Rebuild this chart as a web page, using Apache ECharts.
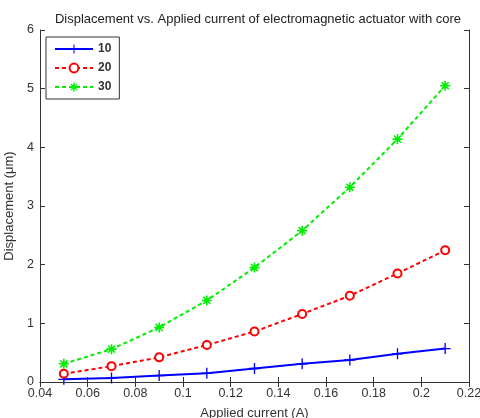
<!DOCTYPE html>
<html>
<head>
<meta charset="utf-8">
<script src="https://cdn.jsdelivr.net/npm/echarts@6/dist/echarts.min.js"></script>
<style>
  html, body { margin: 0; padding: 0; background: #fff; }
  #chart { width: 480px; height: 418px; }
</style>
</head>
<body>
<div id="chart"></div>
<script>
// applied current (A)
var current = [0.05, 0.07, 0.09, 0.11, 0.13, 0.15, 0.17, 0.19, 0.21];
// displacement (um) for each series
var disp10 = [0.045, 0.07, 0.11, 0.15, 0.23, 0.31, 0.375, 0.48, 0.57];
var disp20 = [0.14, 0.27, 0.42, 0.63, 0.86, 1.16, 1.47, 1.85, 2.245];
var disp30 = [0.31, 0.56, 0.93, 1.39, 1.95, 2.58, 3.32, 4.14, 5.05];
var seriesNames = ['10', '20', '30'];

function pairs(ys) {
    var out = [];
    for (var i = 0; i < current.length; i++) out.push([current[i], ys[i]]);
    return out;
}

var plusPath = 'path://M-0.12,-1H0.12V-0.12H1V0.12H0.12V1H-0.12V0.12H-1V-0.12H-0.12Z';
var starPath = 'path://M-0.16,-1H0.16V-0.38L0.6,-0.82L0.82,-0.6L0.38,-0.16H1V0.16H0.38L0.82,0.6L0.6,0.82L0.16,0.38V1H-0.16V0.38L-0.6,0.82L-0.82,0.6L-0.38,0.16H-1V-0.16H-0.38L-0.82,-0.6L-0.6,-0.82L-0.16,-0.38Z';

var font = 'Liberation Sans, Arial, sans-serif';
var axisColor = '#333';

var myChart = echarts.init(document.getElementById('chart'));
var option = {
    animation: false,
    backgroundColor: '#fff',
    title: {
        text: 'Displacement vs. Applied current of electromagnetic actuator with core',
        left: 253,
        textAlign: 'center',
        top: 8,
        textStyle: { fontFamily: font, fontSize: 13, fontWeight: 'normal', color: '#222' }
    },
    grid: { left: 40, right: 11, top: 30, bottom: 36, outerBoundsMode: 'none', containLabel: false },
    legend: {
        left: 46,
        top: 37,
        orient: 'vertical',
        backgroundColor: '#fff',
        borderColor: '#333',
        borderWidth: 1,
        borderRadius: 0,
        padding: [6, 8, 6, 8],
        itemGap: 7,
        itemWidth: 38,
        itemHeight: 11,
        textStyle: { fontFamily: font, fontSize: 12, fontWeight: 'bold', color: '#333' },
        data: seriesNames
    },
    xAxis: [{
        type: 'value',
        min: 0.04,
        max: 0.22,
        interval: 0.02,
        name: 'Applied current (A)',
        nameLocation: 'middle',
        nameGap: 25,
        nameTextStyle: { fontFamily: font, fontSize: 13, color: '#333' },
        axisLine: { lineStyle: { color: axisColor, width: 1 } },
        axisTick: { inside: true, length: 5, lineStyle: { color: axisColor } },
        axisLabel: { fontFamily: font, fontSize: 12.5, color: '#333', margin: 5,
            formatter: function (v) { return String(Math.round(v * 100) / 100); } },
        splitLine: { show: false }
    }, {
        type: 'value',
        position: 'top',
        min: 0.04,
        max: 0.22,
        interval: 0.02,
        axisLine: { lineStyle: { color: axisColor, width: 1 } },
        axisTick: { inside: true, length: 5, lineStyle: { color: axisColor } },
        axisLabel: { show: false },
        splitLine: { show: false }
    }],
    yAxis: [{
        type: 'value',
        min: 0,
        max: 6,
        interval: 1,
        name: 'Displacement (\u03bcm)',
        nameLocation: 'middle',
        nameGap: 22,
        nameTextStyle: { fontFamily: font, fontSize: 13, color: '#333' },
        axisLine: { show: true, lineStyle: { color: axisColor, width: 1 } },
        axisTick: { show: true, inside: true, length: 5, lineStyle: { color: axisColor } },
        axisLabel: { fontFamily: font, fontSize: 12.5, color: '#333', margin: 6 },
        splitLine: { show: false }
    }, {
        type: 'value',
        position: 'right',
        min: 0,
        max: 6,
        interval: 1,
        axisLine: { show: true, lineStyle: { color: axisColor, width: 1 } },
        axisTick: { show: true, inside: true, length: 5, lineStyle: { color: axisColor } },
        axisLabel: { show: false },
        splitLine: { show: false }
    }],
    series: [{
        name: seriesNames[0],
        type: 'line',
        data: pairs(disp10),
        symbol: plusPath,
        symbolSize: 11,
        color: '#0000ff',
        lineStyle: { color: '#0000ff', width: 2, type: 'solid' },
        itemStyle: { color: '#0000ff' }
    }, {
        name: seriesNames[1],
        type: 'line',
        data: pairs(disp20),
        symbol: 'emptyCircle',
        symbolSize: 8,
        color: '#ff0000',
        lineStyle: { color: '#ff0000', width: 2, type: [4, 3] },
        itemStyle: { color: '#ff0000', borderWidth: 2 }
    }, {
        name: seriesNames[2],
        type: 'line',
        data: pairs(disp30),
        symbol: starPath,
        symbolSize: 10,
        color: '#00ee00',
        lineStyle: { color: '#00ee00', width: 2, type: [4, 3] },
        itemStyle: { color: '#00ee00' }
    }]
};
myChart.setOption(option);
</script>
</body>
</html>
